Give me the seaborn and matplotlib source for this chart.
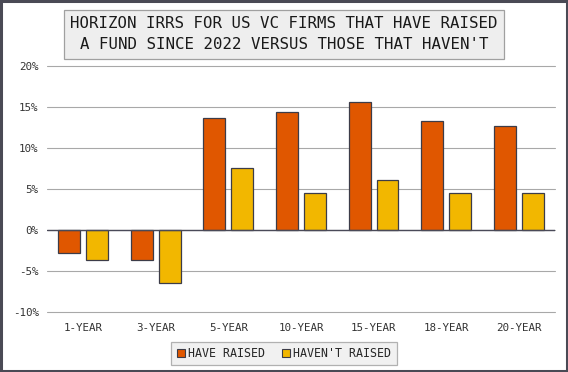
import matplotlib
matplotlib.use("Agg")
import matplotlib.pyplot as plt
import seaborn as sns
import pandas as pd
from matplotlib.patches import Patch, Rectangle
from matplotlib.ticker import FuncFormatter

categories = ["1-YEAR", "3-YEAR", "5-YEAR", "10-YEAR", "15-YEAR", "18-YEAR", "20-YEAR"]
have_raised = [-2.8, -3.6, 13.7, 14.4, 15.6, 13.3, 12.7]
havent_raised = [-3.6, -6.5, 7.6, 4.5, 6.1, 4.5, 4.5]
series_names = ["HAVE RAISED", "HAVEN'T RAISED"]
y_ticks = [-10, -5, 0, 5, 10, 15, 20]
title = "HORIZON IRRS FOR US VC FIRMS THAT HAVE RAISED\nA FUND SINCE 2022 VERSUS THOSE THAT HAVEN'T"

df = pd.DataFrame({
    "horizon": categories * 2,
    "irr": have_raised + havent_raised,
    "group": [series_names[0]] * len(categories) + [series_names[1]] * len(categories),
})

sns.set_theme(style="white")
plt.rcParams["font.family"] = ["DejaVu Sans Mono", "DejaVu Sans"]

colors = ["#E05700", "#F2B700"]
edge = "#3c3c48"

fig = plt.figure(figsize=(5.68, 3.72), dpi=100)
ax = fig.add_axes([0.0827, 0.1613, 0.977 - 0.0827, 0.8226 - 0.1613])

sns.barplot(data=df, x="horizon", y="irr", hue="group", order=categories,
            hue_order=series_names, palette=colors, saturation=1, width=0.77, gap=0.215,
            edgecolor=edge, linewidth=0.9, ax=ax, legend=False, zorder=3)

ax.set_xlim(-0.5, 6.5)
ax.set_ylim(-10, 20)
ax.set_yticks(y_ticks)
ax.yaxis.set_major_formatter(FuncFormatter(lambda v, p: f"{int(v)}%"))
ax.grid(axis="y", color="#a8a8a8", linewidth=0.8, zorder=0)
for gl in ax.get_ygridlines():
    gl.set_clip_on(False)
ax.axhline(0, color="#4a4a58", linewidth=1.0, zorder=4)
for s in ax.spines.values():
    s.set_visible(False)
ax.set_xlabel("")
ax.set_ylabel("")
ax.tick_params(axis="both", length=0, labelsize=7.8, colors="#333333")
ax.tick_params(axis="y", pad=6)
ax.tick_params(axis="x", pad=8)

fig.text(0.5, 0.908, title, ha="center", va="center", fontsize=11.3,
         color="#1a1a1a", linespacing=1.5,
         bbox=dict(boxstyle="square,pad=0.4", facecolor="#eeeeee",
                   edgecolor="#a0a0a0", linewidth=0.9))

handles = [Patch(facecolor=c, edgecolor=edge, linewidth=0.8) for c in colors]
leg = fig.legend(handles, series_names, loc="center", bbox_to_anchor=(0.5, 0.05),
                 ncol=2, frameon=True, fontsize=8.4, handlelength=0.7,
                 handleheight=0.7, handletextpad=0.25, columnspacing=1.5,
                 borderpad=0.45, borderaxespad=0.0, fancybox=False)
leg.get_frame().set_facecolor("#eeeeee")
leg.get_frame().set_edgecolor("#a0a0a0")
leg.get_frame().set_linewidth(0.9)

fig.patches.append(Rectangle((0.002, 0.003), 0.996, 0.994, transform=fig.transFigure,
                             fill=False, edgecolor="#4a4a55", linewidth=2.2))

fig.savefig("out.png", dpi=100, facecolor="white")
